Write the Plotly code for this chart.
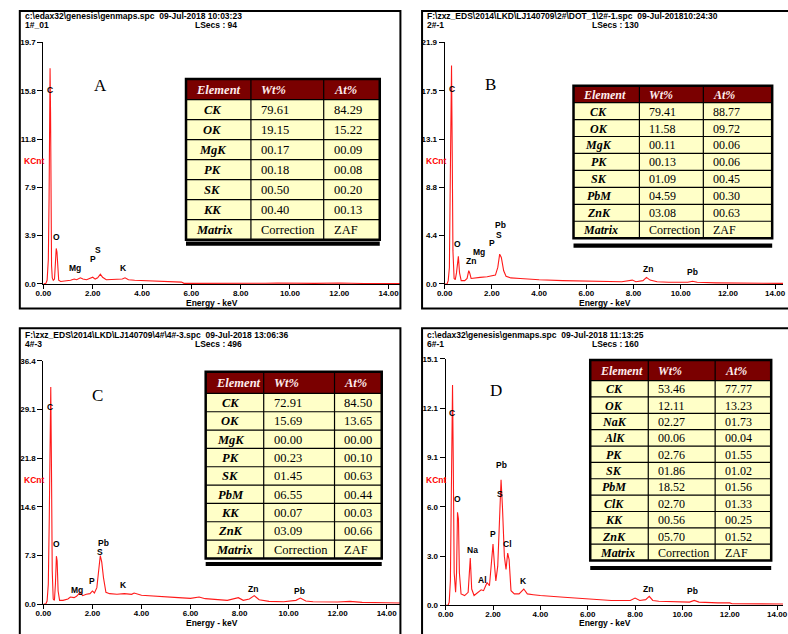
import plotly.graph_objects as go

W, H = 788, 634

# ---------------- data: spectra (energy keV, counts KCnt) ----------------
A_energy = [0.00, 0.10, 0.15, 0.20, 0.23, 0.25, 0.27, 0.29, 0.31, 0.33, 0.36, 0.40, 0.45, 0.49,
            0.52, 0.55, 0.58, 0.62, 0.70, 0.90, 1.10, 1.25, 1.35, 1.50, 1.60, 1.75, 1.90, 2.00,
            2.10, 2.20, 2.31, 2.40, 2.55, 2.80, 3.00, 3.20, 3.31, 3.45, 3.70, 4.00, 4.50, 5.00,
            5.60, 5.70, 6.50, 8.00, 9.00, 9.50, 10.00, 11.00, 12.00, 12.50, 13.00, 14.50]
A_kcnt = [0.00, 0.05, 0.30, 2.0, 7.0, 10.0, 17.6, 14.0, 6.0, 1.5, 0.5, 0.3, 0.4, 1.5,
          2.9, 2.6, 1.0, 0.3, 0.2, 0.25, 0.3, 0.4, 0.35, 0.5, 0.4, 0.35, 0.45, 0.55,
          0.4, 0.5, 0.8, 0.55, 0.35, 0.35, 0.35, 0.4, 0.5, 0.35, 0.3, 0.28, 0.22, 0.18,
          0.15, 0.05, 0.04, 0.03, 0.06, 0.08, 0.05, 0.05, 0.08, 0.05, 0.04, 0.03]

B_energy = [0.00, 0.10, 0.15, 0.20, 0.23, 0.26, 0.29, 0.32, 0.35, 0.40, 0.45, 0.50, 0.54, 0.58,
            0.63, 0.70, 0.85, 0.95, 1.02, 1.06, 1.12, 1.25, 1.50, 1.80, 2.00, 2.15, 2.25, 2.33,
            2.40, 2.50, 2.60, 2.80, 3.20, 4.00, 5.00, 6.00, 7.00, 7.50, 7.95, 8.10, 8.40, 8.55,
            8.70, 9.00, 9.50, 10.30, 10.50, 10.70, 11.50, 12.50, 13.00, 13.50, 14.40]
B_kcnt = [0.00, 0.00, 0.3, 1.5, 8.0, 15.0, 19.8, 12.0, 3.0, 0.5, 0.4, 1.0, 2.2, 2.5,
          1.0, 0.3, 0.3, 0.5, 1.2, 1.0, 0.5, 0.55, 0.6, 0.65, 0.7, 0.8, 1.5, 2.7,
          2.4, 1.2, 0.7, 0.55, 0.5, 0.38, 0.3, 0.25, 0.2, 0.2, 0.35, 0.2, 0.3, 0.6,
          0.35, 0.2, 0.15, 0.15, 0.25, 0.15, 0.1, 0.08, 0.1, 0.08, 0.05]

C_energy = [0.00, 0.10, 0.15, 0.20, 0.24, 0.27, 0.30, 0.33, 0.36, 0.40, 0.45, 0.49, 0.53, 0.56,
            0.60, 0.66, 0.80, 1.00, 1.10, 1.25, 1.35, 1.50, 1.60, 1.75, 1.90, 2.00, 2.08, 2.18,
            2.25, 2.32, 2.38, 2.45, 2.55, 2.70, 3.00, 3.30, 3.60, 3.70, 4.00, 4.50, 5.00, 5.50,
            6.00, 6.35, 6.60, 7.00, 7.50, 7.95, 8.15, 8.40, 8.60, 8.80, 9.20, 9.80, 10.30, 10.48,
            10.70, 11.00, 12.00, 12.50, 13.00, 14.00, 14.60]
C_kcnt = [0.00, 0.1, 0.5, 3.0, 13.0, 24.0, 32.5, 20.0, 5.0, 0.8, 0.6, 3.0, 7.2, 6.5,
          2.0, 0.6, 0.6, 0.8, 1.1, 1.0, 1.2, 1.8, 1.3, 1.5, 1.6, 2.0, 1.7, 2.5,
          5.0, 7.3, 6.3, 4.0, 1.8, 1.6, 1.5, 1.6, 1.5, 1.7, 1.35, 1.2, 1.1, 1.0,
          0.9, 1.1, 0.85, 0.75, 0.6, 1.0, 0.6, 0.8, 1.3, 0.7, 0.45, 0.4, 0.6, 0.95,
          0.5, 0.4, 0.35, 0.45, 0.3, 0.25, 0.2]

D_energy = [0.00, 0.10, 0.15, 0.20, 0.23, 0.26, 0.29, 0.32, 0.36, 0.42, 0.46, 0.50, 0.54, 0.58,
            0.65, 0.80, 0.95, 1.04, 1.10, 1.20, 1.40, 1.50, 1.60, 1.75, 1.85, 1.92, 2.00, 2.06,
            2.12, 2.20, 2.28, 2.34, 2.40, 2.48, 2.55, 2.62, 2.68, 2.76, 2.90, 3.10, 3.30, 3.45,
            3.70, 4.00, 5.00, 6.00, 7.00, 7.80, 8.00, 8.20, 8.45, 8.60, 8.75, 9.00, 10.00, 10.30,
            10.50, 10.70, 11.50, 12.00, 12.10, 13.00, 14.30]
D_kcnt = [0.00, 0.00, 0.2, 1.5, 5.6, 10.0, 13.5, 9.0, 2.0, 0.8, 2.0, 5.7, 5.3, 2.0,
          0.7, 0.6, 0.8, 2.9, 1.0, 0.6, 0.8, 0.95, 0.9, 1.4, 1.2, 2.2, 3.75, 2.5,
          1.5, 2.4, 5.0, 7.7, 6.0, 3.0, 2.2, 3.2, 2.8, 0.9, 0.7, 0.7, 1.0, 0.7,
          0.65, 0.6, 0.5, 0.4, 0.3, 0.3, 0.45, 0.3, 0.35, 0.55, 0.3, 0.25, 0.2, 0.2,
          0.3, 0.2, 0.15, 0.15, 0.1, 0.1, 0.08]

# ---------------- data: axis tick labels ----------------
x_ticklabels = ["0.00", "2.00", "4.00", "6.00", "8.00", "10.00", "12.00", "14.00"]
x_tickvals = [0, 2, 4, 6, 8, 10, 12, 14]
A_ymax, B_ymax, C_ymax, D_ymax = 19.7, 21.9, 36.4, 15.1
A_yticks = ["0.0", "3.9", "7.9", "11.8", "15.8", "19.7"]
B_yticks = ["0.0", "4.4", "8.8", "13.1", "17.5", "21.9"]
C_yticks = ["0.0", "7.3", "14.6", "21.8", "29.1", "36.4"]
D_yticks = ["0.0", "3.0", "6.0", "9.1", "12.1", "15.1"]

# ---------------- data: peak labels (text, keV, KCnt) ----------------
A_peaks = [("C", 0.28, 15.8), ("O", 0.52, 3.86), ("Mg", 1.28, 1.29), ("P", 2.0, 2.0),
           ("S", 2.23, 2.73), ("K", 3.23, 1.29)]
B_peaks = [("C", 0.29, 17.7), ("O", 0.54, 3.66), ("Zn", 1.12, 2.06), ("Mg", 1.46, 2.86),
           ("P", 2.0, 3.75), ("S", 2.29, 4.47), ("Pb", 2.37, 5.36), ("Zn", 8.62, 1.34),
           ("Pb", 10.5, 1.07)]
C_peaks = [("C", 0.28, 29.5), ("O", 0.52, 9.0), ("Pb", 2.45, 9.1), ("S", 2.29, 7.8),
           ("P", 2.0, 3.5), ("Mg", 1.36, 2.2), ("K", 3.25, 2.9), ("Zn", 8.54, 2.36),
           ("Pb", 10.43, 2.06)]
D_peaks = [("C", 0.25, 11.8), ("Pb", 2.37, 8.6), ("O", 0.5, 6.5), ("S", 2.29, 6.8),
           ("P", 2.0, 4.4), ("Cl", 2.62, 3.74), ("Na", 1.12, 3.38), ("Al", 1.54, 1.57),
           ("K", 3.28, 1.5), ("Zn", 8.56, 1.03), ("Pb", 10.43, 0.85)]

# ---------------- data: headers ----------------
A_head = ("c:\\edax32\\genesis\\genmaps.spc  09-Jul-2018 10:03:23", "1#_01", "LSecs : 94")
B_head = ("F:\\zxz_EDS\\2014\\LKD\\LJ140709\\2#\\DOT_1\\2#-1.spc  09-Jul-201810:24:30", "2#-1", "LSecs : 130")
C_head = ("F:\\zxz_EDS\\2014\\LKD\\LJ140709\\4#\\4#-3.spc  09-Jul-2018 13:06:36", "4#-3", "LSecs : 496")
D_head = ("c:\\edax32\\genesis\\genmaps.spc  09-Jul-2018 11:13:25", "6#-1", "LSecs : 160")

# ---------------- data: composition tables ----------------
table_header = ["Element", "Wt%", "At%"]
matrix_row = ["Matrix", "Correction", "ZAF"]
A_elem = ["CK", "OK", "MgK", "PK", "SK", "KK"]
A_wt = ["79.61", "19.15", "00.17", "00.18", "00.50", "00.40"]
A_at = ["84.29", "15.22", "00.09", "00.08", "00.20", "00.13"]
B_elem = ["CK", "OK", "MgK", "PK", "SK", "PbM", "ZnK"]
B_wt = ["79.41", "11.58", "00.11", "00.13", "01.09", "04.59", "03.08"]
B_at = ["88.77", "09.72", "00.06", "00.06", "00.45", "00.30", "00.63"]
C_elem = ["CK", "OK", "MgK", "PK", "SK", "PbM", "KK", "ZnK"]
C_wt = ["72.91", "15.69", "00.00", "00.23", "01.45", "06.55", "00.07", "03.09"]
C_at = ["84.50", "13.65", "00.00", "00.10", "00.63", "00.44", "00.03", "00.66"]
D_elem = ["CK", "OK", "NaK", "AlK", "PK", "SK", "PbM", "ClK", "KK", "ZnK"]
D_wt = ["53.46", "12.11", "02.27", "00.06", "02.76", "01.86", "18.52", "02.70", "00.56", "05.70"]
D_at = ["77.77", "13.23", "01.73", "00.04", "01.55", "01.02", "01.56", "01.33", "00.25", "01.52"]

# ---------------- layout geometry (pixels) ----------------
panels = [
    dict(letter="A", e=A_energy, k=A_kcnt, ymax=A_ymax, yt=A_yticks, peaks=A_peaks, head=A_head,
         elem=A_elem, wt=A_wt, at=A_at,
         frame=(12, 7, 399, 309), x0=36, px14=387, x1=399, ytop=39, ybot=284,
         hx=15, hy=12, lsx=188, kcy=159, ex=207, ey=303, lx=94, ly=83,
         tab=(181, 76, 247, 321, 378), hh=21, rh=20.3, fs=12.5, bar=243, eoff=-6),
    dict(letter="B", e=B_energy, k=B_kcnt, ymax=B_ymax, yt=B_yticks, peaks=B_peaks, head=B_head,
         elem=B_elem, wt=B_wt, at=B_at,
         frame=(421, 7, 795, 309), x0=444, px14=780, x1=788, ytop=39, ybot=284,
         hx=424, hy=12, lsx=592, kcy=159, ex=607, ey=303, lx=491, ly=82,
         tab=(575, 83, 642, 707, 777), hh=17, rh=17.2, fs=12, bar=245, eoff=-8),
    dict(letter="C", e=C_energy, k=C_kcnt, ymax=C_ymax, yt=C_yticks, peaks=C_peaks, head=C_head,
         elem=C_elem, wt=C_wt, at=C_at,
         frame=(12, 329, 399, 645), x0=36, px14=385, x1=399, ytop=362, ybot=609,
         hx=15, hy=336, lsx=188, kcy=483, ex=207, ey=628, lx=91, ly=397,
         tab=(201, 373, 260, 332, 380), hh=22, rh=18.6, fs=12.5, bar=568, eoff=-4),
    dict(letter="D", e=D_energy, k=D_kcnt, ymax=D_ymax, yt=D_yticks, peaks=D_peaks, head=D_head,
         elem=D_elem, wt=D_wt, at=D_at,
         frame=(421, 329, 795, 645), x0=445, px14=782, x1=788, ytop=360, ybot=610,
         hx=424, hy=336, lsx=592, kcy=483, ex=607, ey=628, lx=496, ly=392,
         tab=(592, 361, 651, 719, 776), hh=21, rh=16.6, fs=12, bar=572, eoff=-5),
]

SANS = "Liberation Sans, Arial, sans-serif"
SERIF = "Liberation Serif, Times New Roman, serif"
HEAD_FILL = "#7a0000"
CELL_FILL = "#ffffc8"


def fx(p):
    return p / W


def fy(p):
    return 1 - p / H


def prect(x0, y0, x1, y1, **kw):
    return dict(type="rect", xref="paper", yref="paper", x0=fx(x0), x1=fx(x1),
                y0=fy(y1), y1=fy(y0), **kw)


def pline(x0, y0, x1, y1, width=1.2):
    return dict(type="line", xref="paper", yref="paper", x0=fx(x0), x1=fx(x1),
                y0=fy(y0), y1=fy(y1), line=dict(color="black", width=width))


def ptext(x, y, text, font, xanchor="left"):
    return dict(xref="paper", yref="paper", x=fx(x), y=fy(y), text=text, showarrow=False,
                xanchor=xanchor, yanchor="middle", font=font)


fig = go.Figure()
shapes, annotations = [], []
layout_axes = {}

for i, p in enumerate(panels):
    n = "" if i == 0 else str(i + 1)
    xa, ya = "x" + n, "y" + n
    xmax = 14 * (p["x1"] - p["x0"]) / (p["px14"] - p["x0"])
    fig.add_trace(go.Scatter(x=p["e"], y=p["k"], mode="lines", xaxis=xa, yaxis=ya,
                             line=dict(color="#ff1a1a", width=1.1), hoverinfo="skip",
                             showlegend=False))
    layout_axes["xaxis" + n] = dict(
        domain=[fx(p["x0"]), fx(p["x1"])], range=[0, xmax], anchor=ya,
        tickvals=x_tickvals, ticktext=x_ticklabels, ticks="outside", ticklen=4,
        tickcolor="black", showline=True, linecolor="black", linewidth=1,
        showgrid=False, zeroline=False, tickangle=0, ticklabelstandoff=-3,
        ticklabeloverflow="allow",
        tickfont=dict(family=SANS, size=8, color="black", weight="bold"))
    yvals = [p["ymax"] * j / 5 for j in range(6)]
    layout_axes["yaxis" + n] = dict(
        domain=[fy(p["ybot"]), fy(p["ytop"])], range=[0, p["ymax"]], anchor=xa,
        tickvals=yvals, ticktext=p["yt"], ticks="outside", ticklen=5,
        tickcolor="black", showline=True, linecolor="black", linewidth=1,
        showgrid=False, zeroline=False,
        tickfont=dict(family=SANS, size=8, color="black", weight="bold"))

    # frame
    fx0, fy0, fx1, fy1 = p["frame"]
    shapes.append(prect(fx0, fy0, fx1, fy1, line=dict(color="black", width=2)))

    # header text and axis titles
    hfont = dict(family=SANS, size=8.5, color="black")
    annotations.append(ptext(p["hx"], p["hy"], "<b>" + p["head"][0] + "</b>", hfont))
    annotations.append(ptext(p["hx"], p["hy"] + 9, "<b>" + p["head"][1] + "</b>", hfont))
    annotations.append(ptext(p["lsx"], p["hy"] + 9, "<b>" + p["head"][2] + "</b>", hfont))
    annotations.append(ptext(fx0 + 2, p["kcy"], "<b>KCnt</b>",
                             dict(family=SANS, size=8.5, color="#ff0000")))
    annotations.append(ptext(p["ex"], p["ey"], "<b>Energy - keV</b>", hfont, "center"))
    annotations.append(ptext(p["lx"], p["ly"], p["letter"],
                             dict(family=SERIF, size=17, color="black"), "center"))
    for txt, ex, ey in p["peaks"]:
        annotations.append(dict(xref=xa, yref=ya, x=ex, y=ey, text="<b>" + txt + "</b>",
                                showarrow=False, xanchor="center", yanchor="middle",
                                font=dict(family=SANS, size=8.5, color="black")))

    # composition table
    tl, tt, c1, c2, tr = p["tab"]
    hh, rh = p["hh"], p["rh"]
    rows_e = p["elem"] + [matrix_row[0]]
    rows_w = p["wt"] + [matrix_row[1]]
    rows_a = p["at"] + [matrix_row[2]]
    nrows = len(rows_e)
    tb = tt + hh + nrows * rh
    shapes.append(prect(tl, tt, tr, tb, fillcolor=CELL_FILL, line=dict(width=0)))
    shapes.append(prect(tl, tt, tr, tt + hh, fillcolor=HEAD_FILL, line=dict(width=0)))
    for j in range(nrows):
        yl = tt + hh + j * rh
        shapes.append(pline(tl, yl, tr, yl))
    for xc in (c1, c2):
        shapes.append(pline(xc, tt, xc, tb))
    shapes.append(prect(tl, tt, tr, tb, line=dict(color="black", width=2.5)))
    shapes.append(prect(tl, p["bar"] - 2, tr, p["bar"] + 2.2, fillcolor="black",
                        line=dict(width=0)))

    fs = p["fs"]
    hfnt = dict(family=SERIF, size=fs, color="#ffecec")
    cfnt = dict(family=SERIF, size=fs, color="black")
    for xc, txt in zip((tl, c1, c2), table_header):
        annotations.append(ptext(xc + 8, tt + hh / 2 + 0.5, "<b><i>" + txt + "</i></b>", hfnt))
    for j in range(nrows):
        yc = tt + hh + (j + 0.5) * rh + 0.5
        if j < nrows - 1:
            annotations.append(ptext((tl + c1) / 2 + p["eoff"], yc,
                                     "<b><i>" + rows_e[j] + "</i></b>", cfnt, "center"))
        else:
            annotations.append(ptext(tl + 8, yc, "<b><i>" + rows_e[j] + "</i></b>", cfnt))
        annotations.append(ptext(c1 + 8, yc, rows_w[j], cfnt))
        annotations.append(ptext(c2 + 8, yc, rows_a[j], cfnt))

fig.update_layout(
    width=W, height=H, margin=dict(l=0, r=0, t=0, b=0),
    paper_bgcolor="white", plot_bgcolor="white", showlegend=False,
    shapes=shapes, annotations=annotations, **layout_axes)

fig.write_html("out.html")
